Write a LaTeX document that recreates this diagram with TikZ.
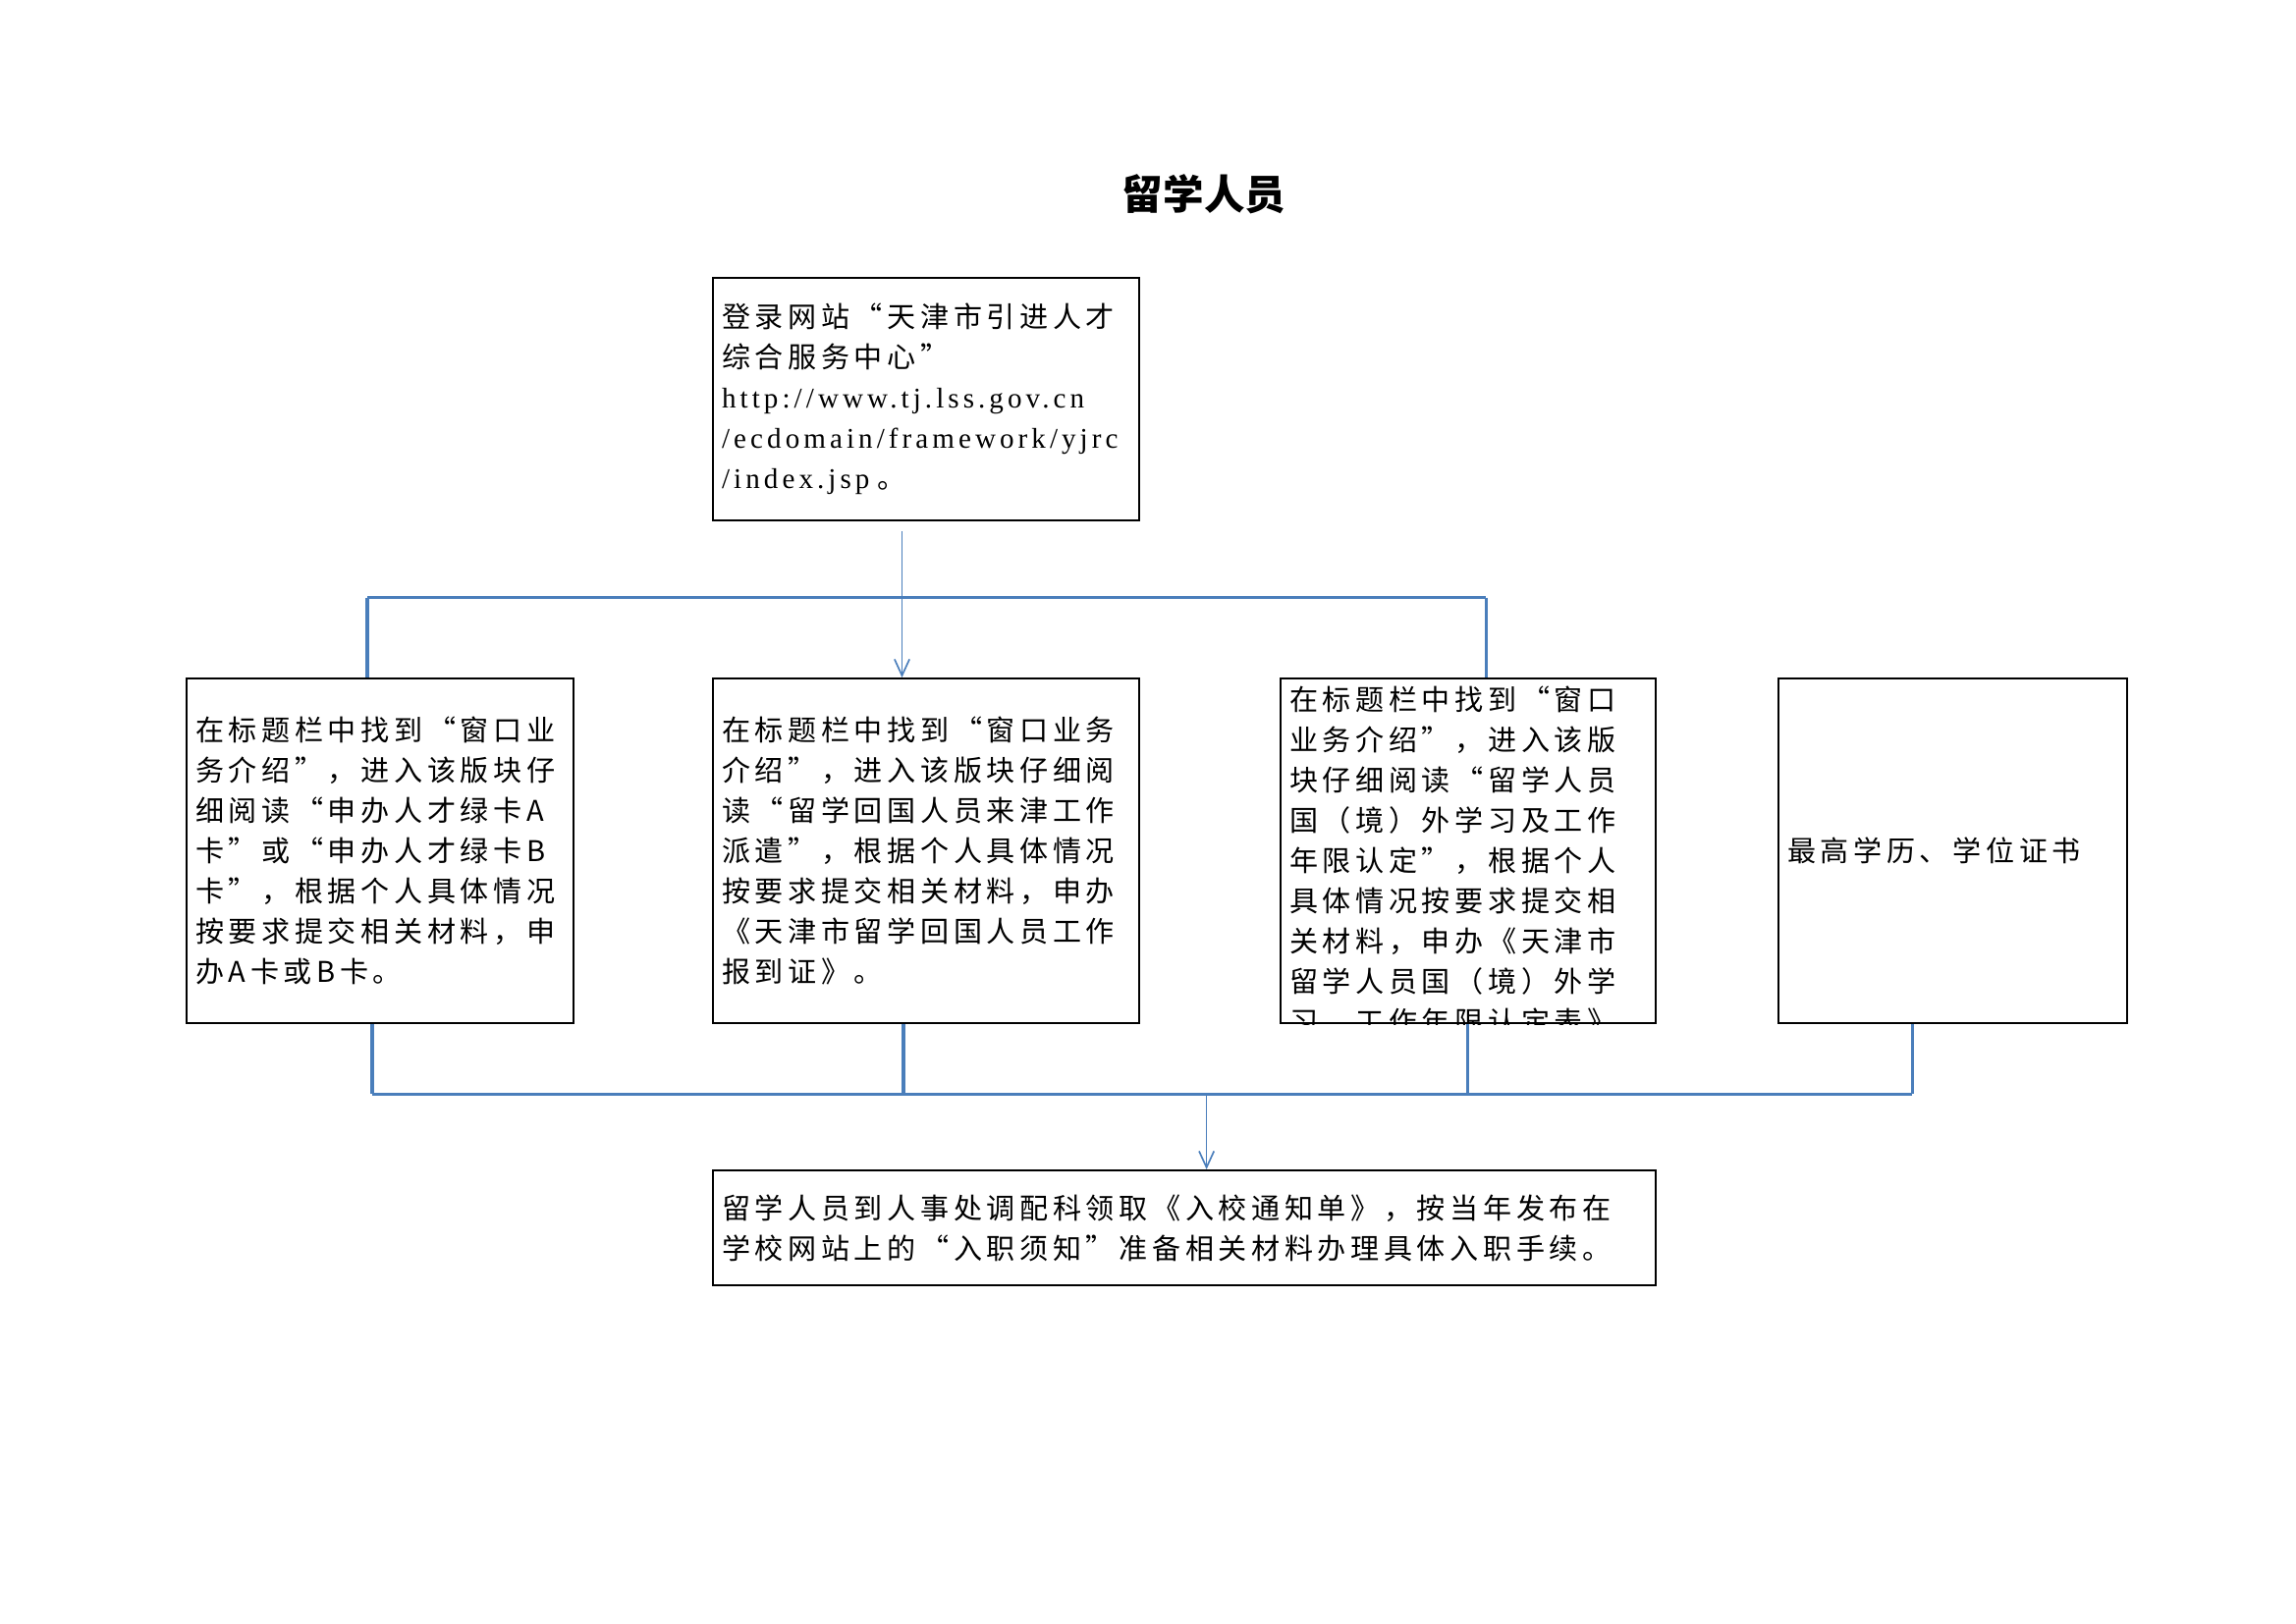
\documentclass[tikz,border=0pt]{standalone}
\usepackage{fontspec}
\usetikzlibrary{arrows.meta}
\newfontfamily\cjk[LetterSpace=16]{Noto Sans CJK SC}
\newfontfamily\cjkhead{Noto Sans CJK SC}
\newfontfamily\urlfont[LetterSpace=14]{Liberation Serif}
\definecolor{linkblue}{RGB}{74,126,187}
\def\pxu{0.36135pt}

\begin{document}
\begin{tikzpicture}[x=\pxu, y=-\pxu,
    >={Straight Barb[length=6pt,width=5.5pt]},
    stepbox/.style={draw, line width=0.8pt, anchor=north west, align=left,
        inner xsep=9*\pxu, inner ysep=0pt, font=\cjk\fontsize{10.5}{14.8}\selectfont},
    bus/.style={linkblue, line width=1.1pt},
    feed/.style={linkblue, line width=0.6pt, ->}]
    \useasboundingbox (0,0) rectangle (2338,1653);

    \node[font=\cjkhead\bfseries\fontsize{15}{18}\selectfont] (title) at (1226,198) {留学人员};

    \node[stepbox, minimum width=433.5*\pxu, minimum height=247*\pxu, text width=415.5*\pxu] (login) at (725,282)
        {登录网站“天津市引进人才\\综合服务中心”\\{\urlfont http://www.tj.lss.gov.cn}\\{\urlfont /ecdomain/framework/yjrc}\\{\urlfont /index.jsp}\hspace{3pt}。};

    \node[stepbox, minimum width=394*\pxu, minimum height=351*\pxu, text width=376*\pxu] (cardAB) at (189,690)
        {在标题栏中找到“窗口业\\务介绍”，进入该版块仔\\细阅读“申办人才绿卡A\\卡”或“申办人才绿卡B\\卡”，根据个人具体情况\\按要求提交相关材料，申\\办A卡或B卡。};
    \node[stepbox, minimum width=433.5*\pxu, minimum height=351*\pxu, text width=415.5*\pxu] (report) at (725,690)
        {在标题栏中找到“窗口业务\\介绍”，进入该版块仔细阅\\读“留学回国人员来津工作\\派遣”，根据个人具体情况\\按要求提交相关材料，申办\\《天津市留学回国人员工作\\报到证》。};
    \node[stepbox, minimum width=382*\pxu, minimum height=351*\pxu] (abroad) at (1303,690) {};
    \begin{scope}
        \clip (abroad.north west) rectangle (abroad.south east);
        \node[stepbox, draw=none, anchor=west, text width=364*\pxu] (abroadtext) at (1303,876.7)
            {在标题栏中找到“窗口\\业务介绍”，进入该版\\块仔细阅读“留学人员\\国（境）外学习及工作\\年限认定”，根据个人\\具体情况按要求提交相\\关材料，申办《天津市\\留学人员国（境）外学\\习、工作年限认定表》};
    \end{scope}
    \node[stepbox, minimum width=355*\pxu, minimum height=351*\pxu, text width=337*\pxu] (degree) at (1810,690)
        {最高学历、学位证书};

    \node[stepbox, minimum width=960*\pxu, minimum height=117*\pxu, text width=942*\pxu] (entry) at (725,1191)
        {留学人员到人事处调配科领取《入校通知单》，按当年发布在\\学校网站上的“入职须知”准备相关材料办理具体入职手续。};

    \coordinate (fork) at (918.5,541);
    \coordinate (busL) at (374,608.5);
    \coordinate (busR) at (1513,608.5);
    \draw[bus] (busL) -- (busR);
    \draw[bus] (busL) -- (busL |- cardAB.north);
    \draw[bus] (busR) -- (busR |- abroad.north);
    \draw[feed] (fork) -- (fork |- report.north);

    \coordinate (joinA) at (379,1114);
    \coordinate (joinB) at (920,1114);
    \coordinate (joinC) at (1494,1114);
    \coordinate (joinD) at (1947,1114);
    \coordinate (merge) at (1228.6,1114);
    \draw[bus] (joinA |- cardAB.south) -- (joinA);
    \draw[bus] (joinB |- report.south) -- (joinB);
    \draw[bus] (joinC |- abroad.south) -- (joinC);
    \draw[bus] (joinD |- degree.south) -- (joinD);
    \draw[bus] (joinA) -- (joinD);
    \draw[feed] (merge) -- (merge |- entry.north);
\end{tikzpicture}
\end{document}
